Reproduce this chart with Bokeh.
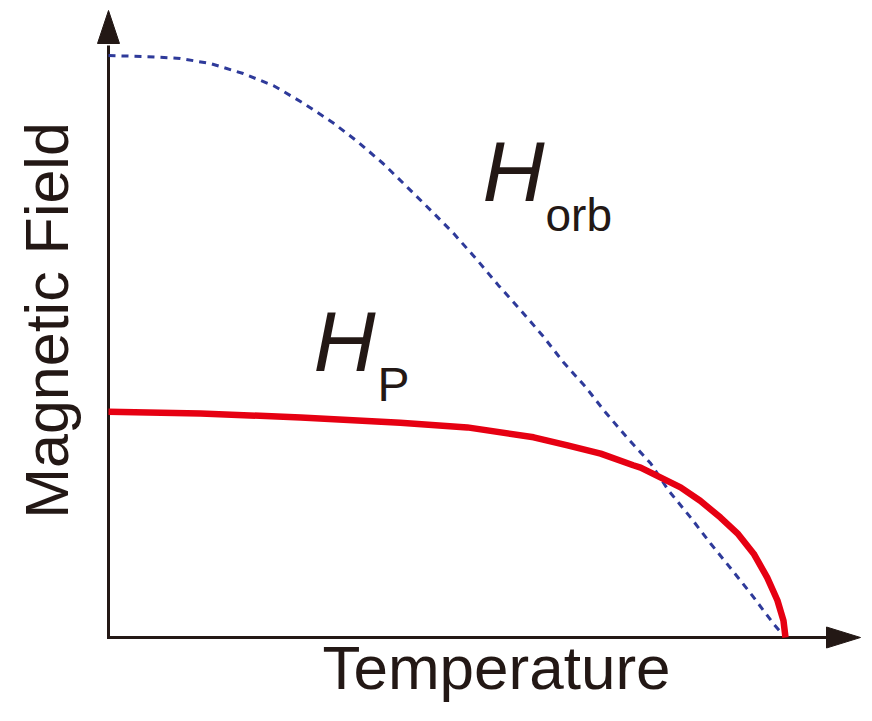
import math
from bokeh.plotting import figure
from bokeh.models import Range1d, Label
from bokeh.embed import file_html
from bokeh.resources import INLINE

# ---- data (normalized: T/Tc, H/H_orb(0)) ----
T_orb = [0.0, 0.058, 0.106, 0.151, 0.199, 0.244, 0.288, 0.331, 0.369, 0.406, 0.442, 0.476,
         0.510, 0.545, 0.576, 0.609, 0.641, 0.672, 0.705, 0.734, 0.767, 0.801, 0.827, 0.860,
         0.889, 0.919, 0.951, 0.982, 0.993]
H_orb = [1.0, 0.998, 0.995, 0.986, 0.969, 0.948, 0.918, 0.885, 0.851, 0.814, 0.773, 0.734,
         0.694, 0.648, 0.605, 0.562, 0.519, 0.473, 0.430, 0.387, 0.342, 0.299, 0.253, 0.206,
         0.162, 0.119, 0.072, 0.024, 0.009]

T_P = [0.0, 0.136, 0.284, 0.431, 0.530, 0.628, 0.678, 0.727, 0.775, 0.786, 0.845, 0.874,
       0.904, 0.929, 0.953, 0.973, 0.988, 0.997, 1.0]
H_P = [0.388, 0.385, 0.378, 0.369, 0.361, 0.344, 0.330, 0.316, 0.296, 0.292, 0.258, 0.235,
       0.206, 0.179, 0.144, 0.103, 0.064, 0.029, 0.0]

x_label = "Temperature"
y_label = "Magnetic Field"

# ---- layout ----
W, H = 862, 705
ORIG_PX, ORIG_PY = 108, 637      # pixel of (T=0, H=0) from top-left
SX, SY = 677.0, 582.0            # px per unit

x0 = -ORIG_PX / SX
x1 = (W - ORIG_PX) / SX
y1 = ORIG_PY / SY
y0 = -(H - ORIG_PY) / SY

INK = "#231815"
BLUE = "#2E3A9A"
RED = "#E60012"
FONT = "Liberation Sans"

p = figure(width=W, height=H, x_range=Range1d(x0, x1), y_range=Range1d(y0, y1),
           min_border=0, output_backend="svg", toolbar_location=None,
           x_axis_location=None, y_axis_location=None)
p.grid.visible = False
p.outline_line_color = None
p.background_fill_color = "white"
p.border_fill_color = "white"


def dx(px):
    return (px - ORIG_PX) / SX


def dy(py):
    return (ORIG_PY - py) / SY


# axes with arrowheads
y_tip, y_base = dy(10), dy(43)
x_tip, x_base = dx(860), dx(826)
hw_x = 11 / SX
hh_y = 10.5 / SY

p.segment(x0=[dx(106.5), 0], y0=[0, 0], x1=[x_base + 2 / SX, 0], y1=[0, y_base - 2 / SY],
          line_color=INK, line_width=3)
p.patches(xs=[[x_tip, x_base, x_base], [0, -hw_x, hw_x]],
          ys=[[0, hh_y, -hh_y], [y_tip, y_base, y_base]],
          fill_color=INK, line_color=INK, line_width=1)

# curves
p.line(T_orb, H_orb, line_color=BLUE, line_width=3, line_dash="7 6")
p.line(T_P, H_P, line_color=RED, line_width=6.5, line_join="round")

# texts
p.add_layout(Label(x=dx(496), y=dy(667), text=x_label,
                   text_font=FONT, text_font_size="62px", text_color=INK,
                   text_align="center", text_baseline="alphabetic"))
p.add_layout(Label(x=dx(46), y=dy(320), text=y_label,
                   angle=math.pi / 2, text_font=FONT, text_font_size="61px", text_color=INK,
                   text_align="center", text_baseline="alphabetic"))

p.add_layout(Label(x=dx(482), y=dy(170), text="H",
                   text_font=FONT, text_font_style="italic", text_font_size="86px",
                   text_color=INK, text_baseline="alphabetic"))
p.add_layout(Label(x=dx(545), y=dy(214), text="orb",
                   text_font=FONT, text_font_size="46px",
                   text_color=INK, text_baseline="alphabetic"))
p.add_layout(Label(x=dx(313), y=dy(340), text="H",
                   text_font=FONT, text_font_style="italic", text_font_size="86px",
                   text_color=INK, text_baseline="alphabetic"))
p.add_layout(Label(x=dx(377), y=dy(384), text="P",
                   text_font=FONT, text_font_size="48px",
                   text_color=INK, text_baseline="alphabetic"))

open("out.html", "w").write(file_html(p, INLINE))
